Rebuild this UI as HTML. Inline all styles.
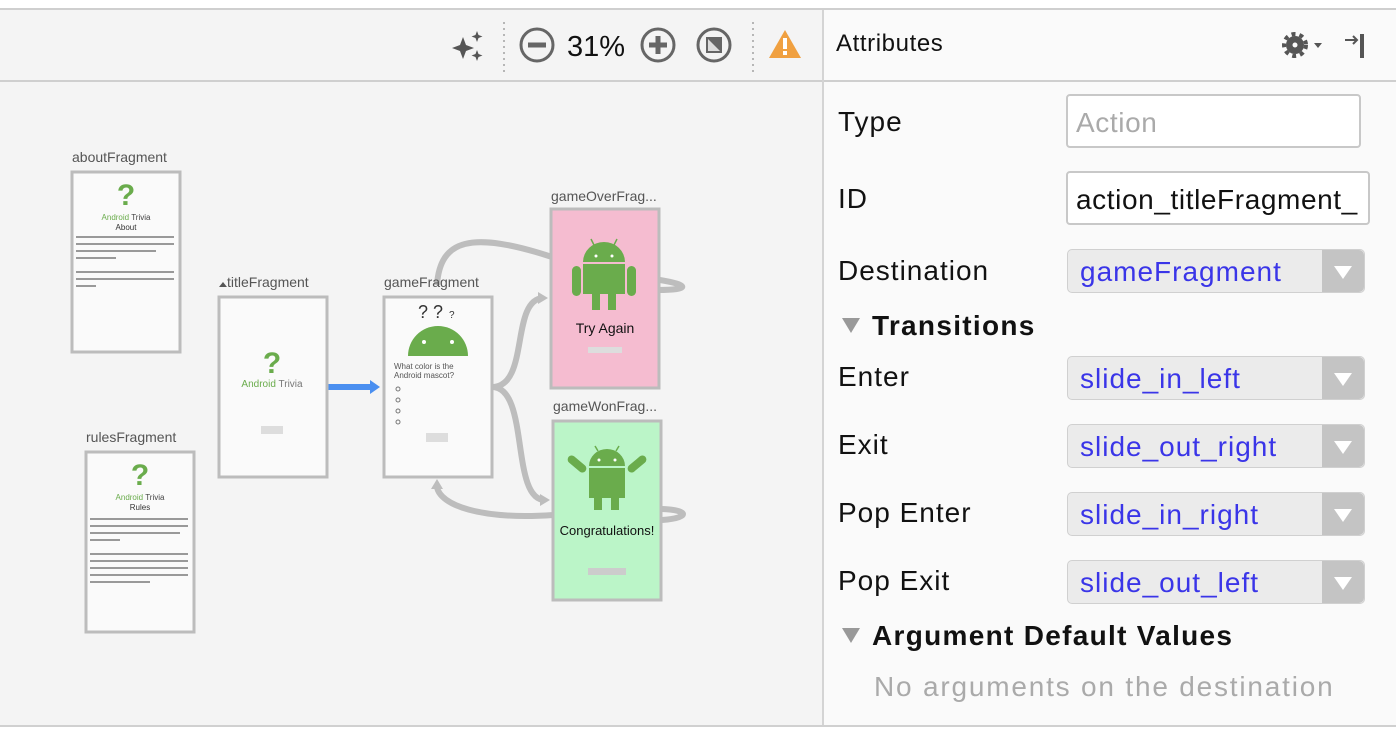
<!DOCTYPE html>
<html><head><meta charset="utf-8"><style>
body{margin:0;width:1396px;height:734px;overflow:hidden;background:#fff;font-family:"Liberation Sans",sans-serif;position:relative}
.a{position:absolute}
.lbl{position:absolute;left:838px;font-size:28px;letter-spacing:1px;color:#111}
.inp{position:absolute;left:1066px;width:293px;height:54px;border:2px solid #c8c8c8;border-radius:4px;background:#fff;font-size:28px;letter-spacing:0.6px;line-height:54px;padding-left:8px;box-sizing:border-box;overflow:hidden;white-space:nowrap}
.dd{position:absolute;left:1067px;width:298px;height:44px;border:1px solid #d0d0d0;border-radius:5px;background:#ebebeb;font-size:28px;letter-spacing:1px;line-height:44px;padding-left:12px;box-sizing:border-box;color:#3a35e8}
.dd:after{content:"";position:absolute;right:0;top:0;width:42px;height:42px;background:#c4c4c4;border-radius:0 5px 5px 0}
.dd i{position:absolute;right:12px;top:16px;width:0;height:0;border-left:9px solid transparent;border-right:9px solid transparent;border-top:13px solid #fff;z-index:2}
.hd{position:absolute;left:842px;font-size:28px;letter-spacing:1.3px;font-weight:bold;color:#111}
.hd b{display:inline-block;width:0;height:0;border-left:9px solid transparent;border-right:9px solid transparent;border-top:15px solid #999;margin-right:12px;vertical-align:2px}
</style></head><body>
<div class="a" style="left:0;top:9px;width:1396px;height:717px;background:#f4f4f4"></div>
<div class="a" style="left:0;top:8px;width:1396px;height:2px;background:#cfcfcf"></div>
<div class="a" style="left:823px;top:10px;width:573px;height:716px;background:#fafafa"></div>
<div class="a" style="left:0;top:80px;width:1396px;height:2px;background:#cfcfcf"></div>
<div class="a" style="left:822px;top:10px;width:2px;height:716px;background:#d4d4d4"></div>
<div class="a" style="left:0;top:725px;width:1396px;height:2px;background:#d0d0d0"></div>
<div class="a" style="left:0;top:727px;width:1396px;height:7px;background:#fff"></div>

<svg class="a" style="left:0;top:0" width="822" height="82">
<g fill="#555"><path d="M463 37 l3 8 8 3 -8 3 -3 8 -3 -8 -8 -3 8 -3z"/><path d="M477 31 l1.5 4 4 1.5 -4 1.5 -1.5 4 -1.5 -4 -4 -1.5 4 -1.5z"/><path d="M477 50 l1.5 4 4 1.5 -4 1.5 -1.5 4 -1.5 -4 -4 -1.5 4 -1.5z"/></g>
<line x1="504" y1="22" x2="504" y2="72" stroke="#777" stroke-dasharray="2 4"/>
<line x1="753" y1="22" x2="753" y2="72" stroke="#777" stroke-dasharray="2 4"/>
<circle cx="537" cy="45" r="16" fill="none" stroke="#666" stroke-width="3"/><rect x="528" y="42.5" width="18" height="5" fill="#666"/>
<text x="567" y="56" font-size="29" font-family="Liberation Sans" fill="#111">31%</text>
<circle cx="658" cy="45" r="16" fill="none" stroke="#666" stroke-width="3"/><rect x="649" y="42.5" width="18" height="5" fill="#666"/><rect x="655.5" y="36" width="5" height="18" fill="#666"/>
<circle cx="714" cy="45" r="16" fill="none" stroke="#666" stroke-width="3"/><rect x="706" y="37" width="16" height="16" fill="#666"/><path d="M708 39 L720 51 L708 51z" fill="#ddd"/>
<path d="M785 30 L801 58 L769 58z" fill="#f0a040"/><rect x="783" y="38" width="4" height="11" fill="#fff"/><rect x="783" y="51" width="4" height="4" fill="#fff"/>
</svg>

<svg class="a" style="left:0;top:82px" width="822" height="643" viewBox="0 82 822 643" font-family="Liberation Sans">
<g fill="none" stroke="#bdbdbd" stroke-width="6">
<path d="M437 285 C440 240 470 230 552 257"/>
<path d="M492 387 C530 387 510 300 543 298"/>
<path d="M492 387 C530 387 510 500 545 500"/>
<path d="M553 515 C480 520 440 505 437 487"/>
<path d="M658 290 C690 290 690 285 660 280"/>
<path d="M662 520 C690 518 690 510 662 509"/>
</g>
<path d="M538 292 L548 298 L538 304z" fill="#bdbdbd"/>
<path d="M540 494 L550 500 L540 506z" fill="#bdbdbd"/>
<path d="M431 489 L437 479 L443 489z" fill="#bdbdbd"/>
<rect x="328" y="384" width="44" height="6" fill="#4a8ff0"/><path d="M370 380 L380 387 L370 394z" fill="#4a8ff0"/>
<g font-size="14" fill="#555">
<text x="72" y="162">aboutFragment</text>
<text x="86" y="442">rulesFragment</text>
<text x="227" y="287">titleFragment</text>
<text x="384" y="287">gameFragment</text>
<text x="551" y="201">gameOverFrag...</text>
<text x="553" y="411">gameWonFrag...</text>
</g>
<path d="M219 287 l4 -5 4 5z" fill="#555"/>
<g stroke="#bcbcbc" stroke-width="3" fill="#fafafa">
<rect x="72" y="172" width="108" height="180"/>
<rect x="86" y="452" width="108" height="180"/>
<rect x="219" y="297" width="108" height="180"/>
<rect x="384" y="297" width="108" height="180"/>
<rect x="551" y="209" width="108" height="179" fill="#f5bcd0"/>
<rect x="553" y="421" width="108" height="179" fill="#bbf5c8"/>
</g>
<g fill="#6aac4c" font-size="30" font-weight="bold" text-anchor="middle">
<text x="126" y="205">?</text><text x="140" y="485">?</text><text x="272" y="373">?</text>
</g>
<g font-size="8" text-anchor="middle"><text x="126" y="220" fill="#6aac4c">Android <tspan fill="#444">Trivia</tspan></text><text x="126" y="230" fill="#333">About</text>
<text x="140" y="500" fill="#6aac4c">Android <tspan fill="#444">Trivia</tspan></text><text x="140" y="510" fill="#333">Rules</text>
<text x="272" y="387" fill="#6aac4c" font-size="10">Android <tspan fill="#777">Trivia</tspan></text></g>
<g fill="#999"><rect x="76" y="236" width="98" height="2"/><rect x="76" y="243" width="98" height="2"/><rect x="76" y="250" width="80" height="2"/><rect x="76" y="257" width="40" height="2"/><rect x="76" y="271" width="98" height="2"/><rect x="76" y="278" width="98" height="2"/><rect x="76" y="285" width="20" height="2"/>
<rect x="90" y="518" width="98" height="2"/><rect x="90" y="525" width="98" height="2"/><rect x="90" y="532" width="90" height="2"/><rect x="90" y="539" width="30" height="2"/><rect x="90" y="553" width="98" height="2"/><rect x="90" y="560" width="98" height="2"/><rect x="90" y="567" width="98" height="2"/><rect x="90" y="574" width="98" height="2"/><rect x="90" y="581" width="60" height="2"/></g>
<rect x="261" y="426" width="22" height="8" fill="#ddd"/>
<text x="418" y="318" font-size="18" fill="#333">? ?</text><text x="449" y="318" font-size="10" fill="#333">?</text>
<path d="M408 356 A30 30 0 0 1 468 356z" fill="#6aac4c"/><circle cx="424" cy="342" r="2" fill="#fff"/><circle cx="452" cy="342" r="2" fill="#fff"/>
<g font-size="8" fill="#555"><text x="394" y="369">What color is the</text><text x="394" y="378">Android mascot?</text></g>
<g fill="none" stroke="#777"><circle cx="398" cy="389" r="2"/><circle cx="398" cy="400" r="2"/><circle cx="398" cy="411" r="2"/><circle cx="398" cy="422" r="2"/></g>
<rect x="426" y="433" width="22" height="9" fill="#ddd"/>
<g fill="#6aac4c">
<path d="M583 262 A21 20 0 0 1 625 262z"/><rect x="583" y="264" width="42" height="30"/><rect x="572" y="266" width="9" height="30" rx="4.5"/><rect x="627" y="266" width="9" height="30" rx="4.5"/><rect x="592" y="292" width="8" height="18"/><rect x="608" y="292" width="8" height="18"/>
<path d="M589 466 A18 17 0 0 1 625 466z"/><rect x="589" y="468" width="36" height="30"/><rect x="594" y="496" width="8" height="14"/><rect x="611" y="496" width="8" height="14"/>
<rect x="566" y="460" width="22" height="8" rx="4" transform="rotate(40 577 464)"/><rect x="626" y="460" width="22" height="8" rx="4" transform="rotate(-40 637 464)"/>
</g>
<g stroke="#6aac4c" stroke-width="1.5"><line x1="594" y1="245" x2="591" y2="239"/><line x1="614" y1="245" x2="617" y2="239"/><line x1="598" y1="451" x2="595" y2="446"/><line x1="616" y1="451" x2="619" y2="446"/></g>
<g fill="#fff"><circle cx="596" cy="256" r="1.5"/><circle cx="612" cy="256" r="1.5"/><circle cx="599" cy="460" r="1.5"/><circle cx="615" cy="460" r="1.5"/></g>
<text x="605" y="333" font-size="14" text-anchor="middle" fill="#111">Try Again</text>
<rect x="588" y="347" width="34" height="6" fill="#ddd"/>
<text x="607" y="535" font-size="13" text-anchor="middle" fill="#111">Congratulations!</text>
<rect x="588" y="568" width="38" height="7" fill="#ccc"/>
</svg>

<div class="a" style="left:836px;top:30px;font-size:24px;letter-spacing:0.6px;color:#111">Attributes</div>
<svg class="a" style="left:1280px;top:30px" width="100" height="32"><circle cx="15" cy="15" r="9" fill="#555"/><circle cx="15" cy="15" r="11" fill="none" stroke="#555" stroke-width="4" stroke-dasharray="4 4"/><circle cx="15" cy="15" r="2.5" fill="#fafafa"/><path d="M34 13 l8 0 -4 5z" fill="#555"/><path d="M65 10 L77 10 M73 6 L77 10 L73 14" stroke="#555" stroke-width="2" fill="none"/><rect x="80" y="4" width="4" height="24" fill="#555"/></svg>

<div class="lbl" style="top:106px">Type</div>
<div class="inp" style="top:94px;color:#aaa;width:295px">Action</div>
<div class="lbl" style="top:183px">ID</div>
<div class="inp" style="top:171px;width:304px;color:#111">action_titleFragment_</div>
<div class="lbl" style="top:255px">Destination</div>
<div class="dd" style="top:249px">gameFragment<i></i></div>
<div class="hd" style="top:310px"><b></b>Transitions</div>
<div class="lbl" style="top:361px">Enter</div>
<div class="dd" style="top:356px">slide_in_left<i></i></div>
<div class="lbl" style="top:429px">Exit</div>
<div class="dd" style="top:424px">slide_out_right<i></i></div>
<div class="lbl" style="top:497px">Pop Enter</div>
<div class="dd" style="top:492px">slide_in_right<i></i></div>
<div class="lbl" style="top:565px">Pop Exit</div>
<div class="dd" style="top:560px">slide_out_left<i></i></div>
<div class="hd" style="top:620px"><b></b>Argument Default Values</div>
<div class="a" style="left:874px;top:671px;font-size:28px;letter-spacing:1.8px;color:#aaa">No arguments on the destination</div>
</body></html>
